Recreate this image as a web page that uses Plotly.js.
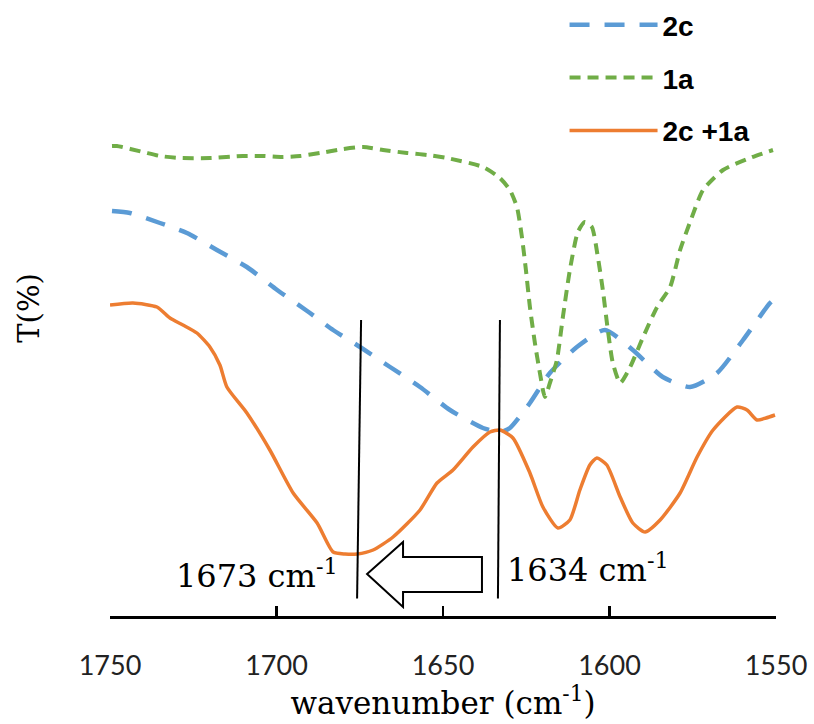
<!DOCTYPE html>
<html><head><meta charset="utf-8">
<script src="https://cdn.plot.ly/plotly-3.0.1.min.js"></script>
<style>html,body{margin:0;padding:0;background:#fff}#chart{width:814px;height:724px}</style>
</head><body><div id="chart"></div>
<script>
// Series: wavenumber (cm-1) and transmittance (arbitrary T units)
const wn_2c = [1749.4,1744.0,1735.0,1726.9,1717.9,1708.9,1699.8,1690.8,1683.0,1674.9,1665.9,1656.9,1647.9,1638.0,1632.9,1629.9,1623.9,1617.9,1609.8,1601.4,1593.0,1584.0,1575.8,1567.7,1559.9,1551.8,1550.0];
const t_2c  = [81.0,80.6,78.6,76.6,73.2,69.8,65.2,61.0,57.2,53.8,49.8,45.8,41.2,37.6,36.8,37.6,42.6,48.6,53.8,57.2,53.2,47.8,45.8,48.6,55.2,62.6,63.6];

const wn_1a = [1749.4,1747.9,1740.1,1735.0,1729.0,1720.0,1710.1,1704.1,1698.3,1692.9,1686.9,1680.0,1674.0,1668.0,1660.8,1654.8,1648.8,1638.0,1632.9,1629.9,1627.8,1626.3,1625.1,1623.9,1622.4,1620.9,1619.4,1617.9,1615.8,1614.0,1611.9,1609.5,1607.4,1605.3,1603.5,1602.0,1600.5,1599.0,1596.8,1593.8,1589.9,1585.7,1581.8,1578.8,1575.8,1571.9,1565.9,1557.8,1550.9];
const t_1a  = [94.0,94.0,92.8,92.0,91.6,91.6,92.0,92.0,91.8,92.0,92.6,93.4,93.8,93.2,92.6,92.2,91.6,89.8,87.6,85.2,81.8,75.8,69.2,61.8,54.6,48.6,43.8,46.6,51.2,59.8,69.2,76.8,78.8,77.8,71.8,65.2,57.2,50.6,46.6,49.8,55.8,61.8,65.8,73.2,78.8,85.2,89.2,91.6,93.2];

const wn_mix = [1750.0,1743.1,1735.9,1732.0,1728.1,1723.9,1720.0,1717.0,1714.9,1708.9,1702.0,1695.0,1687.8,1683.0,1679.4,1675.8,1671.0,1665.0,1656.9,1651.8,1647.0,1641.0,1635.9,1632.9,1629.0,1623.9,1620.0,1615.5,1611.9,1608.9,1605.9,1603.8,1600.8,1596.8,1593.0,1589.3,1584.8,1578.8,1573.7,1568.9,1561.7,1558.7,1555.7,1553.0,1550.3];
const t_mix  = [62.2,62.6,61.8,59.6,58.2,56.6,53.8,50.2,45.8,40.6,33.2,24.6,18.6,12.8,12.4,12.4,13.2,15.8,21.2,26.6,29.2,33.8,36.8,37.2,35.6,28.6,21.8,17.6,19.2,25.2,30.2,31.6,30.2,23.8,18.6,16.8,19.2,24.6,31.8,37.2,41.8,41.2,39.2,39.6,40.2];

const seriesNames = ['2c', '1a', '2c +1a'];
const tickVals = [1750, 1700, 1650, 1600, 1550];

// Annotation marks (peak markers and arrow), in data units
const markerLinesX = [[1674.6, 1675.8], [1632.9, 1633.5]];
const markerLinesT = [59.2, 3.5];
const arrowX = [1672.8, 1662.0, 1662.0, 1638.3, 1638.3, 1662.0, 1662.0];
const arrowT = [8.4, 14.8, 11.8, 11.8, 4.8, 4.8, 1.8];
const peakLabels = ['1673 cm<sup>-1</sup>', '1634 cm<sup>-1</sup>'];

const traces = [
  {x: wn_2c, y: t_2c, name: seriesNames[0], mode: 'lines', legendgroup: 'a',
   line: {color: '#5B9BD5', width: 4.5, dash: '20px,15px', shape: 'spline', smoothing: 0.6}},
  {x: wn_1a, y: t_1a, name: seriesNames[1], mode: 'lines', legendgroup: 'b',
   line: {color: '#70AD47', width: 4, dash: '11px,7px', shape: 'spline', smoothing: 0.6}},
  {x: wn_mix, y: t_mix, name: seriesNames[2], mode: 'lines', legendgroup: 'c',
   line: {color: '#ED7D31', width: 3.5, shape: 'spline', smoothing: 0.6}}
];

const shapes = markerLinesX.map(xs => ({
  type: 'line', xref: 'x', yref: 'y', x0: xs[0], y0: markerLinesT[0], x1: xs[1], y1: markerLinesT[1],
  line: {color: '#000', width: 2}
}));
let arrowPath = arrowX.map((x, i) => (i === 0 ? 'M' : 'L') + x + ',' + arrowT[i]).join(' ') + ' Z';
shapes.push({type: 'path', xref: 'x', yref: 'y', path: arrowPath,
  line: {color: '#000', width: 2}, fillcolor: '#fff'});

const serif = 'DejaVu Serif, serif';
const annotations = [
  {x: 1680.9, y: 8.4, xref: 'x', yref: 'y', text: peakLabels[0], showarrow: false,
   xanchor: 'right', yanchor: 'middle', font: {family: serif, size: 32, color: '#000'}},
  {x: 1631.4, y: 9.6, xref: 'x', yref: 'y', text: peakLabels[1], showarrow: false,
   xanchor: 'left', yanchor: 'middle', font: {family: serif, size: 32, color: '#000'}}
];

const layout = {
  width: 814, height: 724,
  margin: {l: 110, r: 38, t: 0, b: 108},
  paper_bgcolor: '#fff', plot_bgcolor: '#fff',
  showlegend: true,
  legend: {x: 0.6825, xanchor: 'left', y: 1.0, yanchor: 'top',
    traceorder: 'grouped', tracegroupgap: 13.5, itemwidth: 88,
    font: {family: 'Liberation Sans, Arial, sans-serif', size: 28, color: '#000', weight: 'bold'},
    bgcolor: 'rgba(0,0,0,0)'},
  xaxis: {range: [1750, 1550], autorange: false, tickmode: 'array', tickvals: tickVals,
    ticks: 'inside', ticklen: 10, tickwidth: 2.5, tickcolor: '#000',
    showline: true, linecolor: '#000', linewidth: 3, showgrid: false, zeroline: false,
    ticklabelstandoff: 24,
    tickfont: {family: 'Lato, Open Sans, sans-serif', size: 27, color: '#222'},
    title: {text: 'wavenumber (cm<sup>-1</sup>)', standoff: 8,
      font: {family: serif, size: 31, color: '#000'}}},
  yaxis: {range: [0, 123.2], autorange: false, showticklabels: false, ticks: '',
    showline: false, showgrid: false, zeroline: false,
    title: {text: 'T(%)', standoff: 60, font: {family: serif, size: 29, color: '#000'}}},
  shapes: shapes,
  annotations: annotations
};

Plotly.newPlot('chart', traces, layout, {displayModeBar: false, staticPlot: true});
</script></body></html>
